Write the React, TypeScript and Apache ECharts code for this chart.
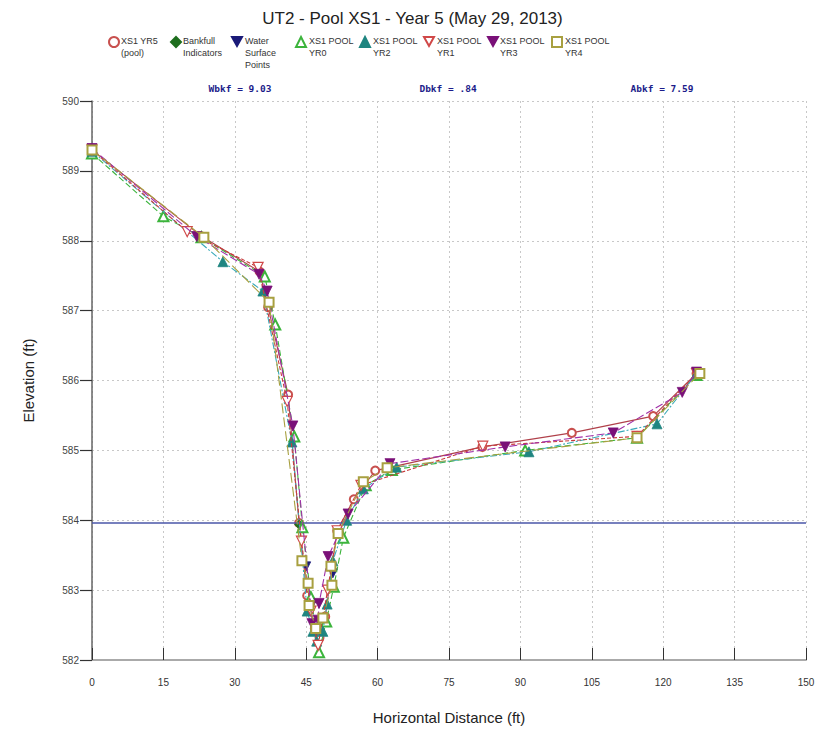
import React, { useEffect, useRef } from "react";
import * as echarts from "echarts";

// ---- data (Horizontal Distance ft, Elevation ft) ----
const yr5Pool: [number, number][] = [
  [0, 589.3], [23.1, 588.06], [35.2, 587.56], [37, 587.05], [41.2, 585.8], [43.5, 583.96],
  [45.2, 582.92], [46.8, 582.45], [47.8, 582.32], [49, 582.62], [51.5, 583.85], [55, 584.3],
  [59.5, 584.71], [82, 585.05], [100.8, 585.25], [117.9, 585.49], [127, 586.1],
];
const bankfull: [number, number][] = [[43.5, 583.94]];
const waterSurface: [number, number][] = [[45.0, 583.34], [50.6, 583.24]];
const yr0: [number, number][] = [
  [0, 589.25], [15, 588.35], [23, 588.05], [36.3, 587.49], [38.5, 586.8], [42.5, 585.2],
  [44.2, 583.9], [46, 582.9], [47.7, 582.11], [49.2, 582.55], [50.8, 583.05], [52.8, 583.75],
  [57.5, 584.5], [63, 584.72], [91, 585.0], [114.5, 585.18], [127, 586.08],
];
const yr2: [number, number][] = [
  [0, 589.28], [27.5, 587.7], [35.9, 587.28], [42.0, 585.12], [45.2, 582.7], [46.4, 582.41],
  [47.2, 582.27], [48.5, 582.41], [49.4, 582.8], [50.6, 583.42], [53.5, 584.0], [57, 584.45],
  [64, 584.76], [91.8, 584.98], [118.7, 585.38], [127, 586.1],
];
const yr1: [number, number][] = [
  [0, 589.3], [20, 588.13], [34.9, 587.62], [41, 585.7], [44, 583.7], [46, 582.7],
  [47.5, 582.21], [49.5, 583.0], [51.5, 583.85], [56.5, 584.5], [82.1, 585.06],
  [114.5, 585.2], [127, 586.1],
];
const yr3: [number, number][] = [
  [0, 589.32], [22, 588.06], [35.1, 587.52], [36.8, 587.28], [42.2, 585.35], [46, 582.77],
  [46.2, 582.52], [47.5, 582.57], [47.7, 582.81], [49.6, 583.48], [53.8, 584.09],
  [62.6, 584.81], [86.8, 585.05], [109.5, 585.25], [124, 585.83], [127, 586.12],
];
const yr4: [number, number][] = [
  [0, 589.3], [23.5, 588.05], [37.2, 587.12], [44.1, 583.42], [45.4, 583.1], [45.6, 582.78],
  [47, 582.45], [48.5, 582.6], [50.4, 583.07], [50.2, 583.34], [51.7, 583.81], [57, 584.55],
  [62, 584.75], [114.5, 585.18], [127.7, 586.1],
];
const bankfullElevation = 583.96;
const xTicks = { min: 0, max: 150, interval: 15 };
const yTicks = { min: 582, max: 590, interval: 1 };
const annotations = ["Wbkf = 9.03", "Dbkf = .84", "Abkf = 7.59"];
const legendLabels = [
  "XS1 YR5\n(pool)", "Bankfull\nIndicators", "Water\nSurface\nPoints", "XS1 POOL\nYR0",
  "XS1 POOL\nYR2", "XS1 POOL\nYR1", "XS1 POOL\nYR3", "XS1 POOL\nYR4",
];

const FONT = "'Liberation Sans', Arial, sans-serif";

export default function App() {
  const ref = useRef<HTMLDivElement>(null);
  useEffect(() => {
    if (!ref.current) return;
    const chart = echarts.init(ref.current, undefined, { renderer: "svg" });

    const downTri = "path://M0,0 L10,0 L5,9 Z";

    type SDef = {
      data: [number, number][]; symbol: string; size: number;
      color: string; hollow: boolean; line: string | null; dash: number[] | "solid";
      iconX: number; textX: number;
    };
    const defs: SDef[] = [
      { data: yr5Pool, symbol: "emptyCircle", size: 8, color: "#c8504e", hollow: true, line: "#b0404a", dash: "solid", iconX: 113, textX: 121 },
      { data: bankfull, symbol: "diamond", size: 9, color: "#1e6e1e", hollow: false, line: null, dash: "solid", iconX: 175, textX: 183 },
      { data: waterSurface, symbol: downTri, size: 9, color: "#1a1a78", hollow: false, line: null, dash: "solid", iconX: 236, textX: 245 },
      { data: yr0, symbol: "emptyTriangle", size: 10, color: "#3cb43c", hollow: true, line: "#3cb43c", dash: [6, 3], iconX: 300, textX: 309 },
      { data: yr2, symbol: "triangle", size: 10, color: "#1f8580", hollow: false, line: "#38aab8", dash: [7, 2, 2, 2], iconX: 364, textX: 373 },
      { data: yr1, symbol: downTri, size: 10, color: "#d04848", hollow: true, line: "#c83c3c", dash: [4, 2], iconX: 428, textX: 437 },
      { data: yr3, symbol: downTri, size: 10, color: "#7a1078", hollow: false, line: "#a030a8", dash: [8, 3], iconX: 492, textX: 500 },
      { data: yr4, symbol: "emptyRect", size: 9, color: "#a8a040", hollow: true, line: "#a8a040", dash: [10, 4], iconX: 556, textX: 565 },
    ];

    const series: any[] = defs.map((d, i) => {
      const isPathHollow = d.hollow && d.symbol.startsWith("path://");
      const s: any = {
        name: legendLabels[i],
        type: "line",
        data: d.data,
        symbol: d.symbol,
        symbolSize: d.size,
        showAllSymbol: true,
        itemStyle: isPathHollow
          ? { color: "#fff", borderColor: d.color, borderWidth: 1.2 }
          : { color: d.color, borderColor: d.color, borderWidth: d.hollow ? 1.2 : 0.8 },
        lineStyle: d.line ? { color: d.line, width: 1.1, type: d.dash } : { width: 0, opacity: 0 },
        z: 3 + i,
      };
      if (i === 1) {
        s.markLine = {
          silent: true,
          symbol: "none",
          label: { show: false },
          lineStyle: { color: "#4a56a8", width: 1.6, type: "solid" },
          data: [{ yAxis: bankfullElevation }],
        };
      }
      return s;
    });

    const legends = defs.map((d, i) => ({
      data: [{ name: legendLabels[i], icon: d.symbol }],
      left: d.iconX - 5,
      top: 36,
      padding: 0,
      itemWidth: 10,
      itemHeight: 10,
      selectedMode: false,
      formatter: () => "",
      textStyle: { fontSize: 1 },
    }));

    const annX = [240, 448, 662];

    const graphics: any[] = [
      ...annotations.map((t, i) => ({
        type: "text",
        x: annX[i],
        y: 88,
        style: {
          text: t,
          font: "bold 9.5px 'DejaVu Sans Mono', monospace",
          fill: "#1c1c8a",
          align: "center",
          verticalAlign: "middle",
        },
      })),
      ...defs.map((d, i) => ({
        type: "text",
        x: d.textX,
        y: 35,
        style: {
          text: legendLabels[i],
          fontFamily: FONT,
          fontSize: 9,
          lineHeight: 12,
          fill: "#333",
          align: "left",
          verticalAlign: "top",
        },
      })),
    ];

    chart.setOption({
      animation: false,
      backgroundColor: "#fff",
      title: {
        text: "UT2 - Pool XS1 - Year 5 (May 29, 2013)",
        left: "center",
        top: 5,
        textStyle: { fontFamily: FONT, fontSize: 17, fontWeight: "normal", color: "#222" },
      },
      legend: legends,
      grid: { left: 92, right: 19, top: 101, bottom: 68, containLabel: false },
      xAxis: {
        type: "value",
        min: xTicks.min,
        max: xTicks.max,
        interval: xTicks.interval,
        name: "Horizontal Distance (ft)",
        nameLocation: "middle",
        nameGap: 50,
        nameTextStyle: { fontFamily: FONT, fontSize: 15, color: "#222" },
        axisLine: { show: true, lineStyle: { color: "#aaa", width: 2 } },
        axisTick: { show: true, inside: true, length: 12, lineStyle: { color: "#333", width: 1 } },
        axisLabel: { fontFamily: FONT, fontSize: 10, color: "#333", margin: 17 },
        splitLine: { show: true, lineStyle: { color: "#c8c8c8", type: [2, 3], width: 1 } },
      },
      yAxis: {
        type: "value",
        min: yTicks.min,
        max: yTicks.max,
        interval: yTicks.interval,
        name: "Elevation (ft)",
        nameLocation: "middle",
        nameGap: 56,
        nameTextStyle: { fontFamily: FONT, fontSize: 15, color: "#222" },
        axisLine: { show: true, lineStyle: { color: "#666", width: 1.5 } },
        axisTick: { show: true, length: 12, lineStyle: { color: "#333", width: 1.2 } },
        axisLabel: { fontFamily: FONT, fontSize: 10, color: "#444", margin: 13 },
        splitLine: { show: true, lineStyle: { color: "#c8c8c8", type: [2, 3], width: 1 } },
      },
      graphic: graphics,
      series,
    });
    return () => chart.dispose();
  }, []);
  return (
    <div
      ref={ref}
      style={{ position: "absolute", left: 0, top: 0, width: 825, height: 730 }}
    />
  );
}
